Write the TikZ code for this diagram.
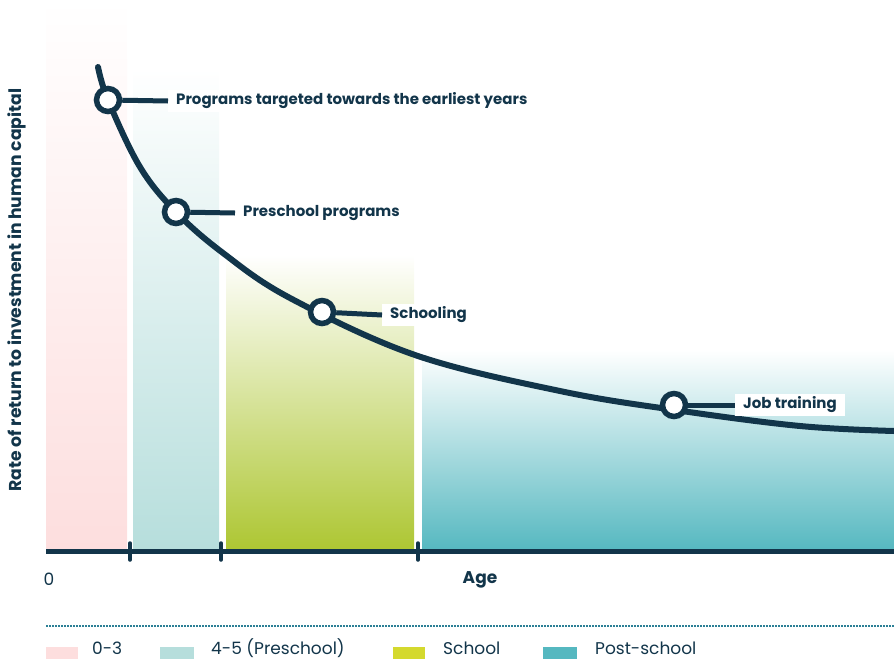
\documentclass[tikz,border=0pt]{standalone}
\usepackage{fontspec}
\setmainfont{Poppins}
\definecolor{navy}{HTML}{12354A}
\definecolor{pinkbar}{HTML}{FDDEDE}
\definecolor{tealbar}{HTML}{B6DEDC}
\definecolor{greenbar}{HTML}{ADC632}
\definecolor{postbar}{HTML}{55B8C0}
\definecolor{schoolkey}{HTML}{D4D92E}
\definecolor{dotline}{HTML}{2B7F95}
\begin{document}
\begin{tikzpicture}[x=1pt,y=-1pt,
    bar/.style={top color=white,bottom color=#1,draw=none},
    ring/.style={circle,draw=navy,fill=white,line width=5.5pt,minimum size=23pt,inner sep=0pt},
    lab/.style={anchor=west,fill=white,inner sep=0pt,inner xsep=8pt,minimum height=22pt,
      text=navy,font=\bfseries\fontsize{15}{18}\selectfont},
    key/.style={anchor=base west,text=navy,font=\fontsize{17}{20}\selectfont,inner sep=0pt}]
  \useasboundingbox (0,0) rectangle (894,659);
  % age bands
  \fill[bar=pinkbar] (46,0) rectangle (127,551);
  \fill[bar=tealbar] (133,68) rectangle (219,551);
  \fill[bar=greenbar] (226,255) rectangle (414,551);
  \fill[bar=postbar] (422,350) rectangle (894,551);
  % axis
  \draw[navy,line width=5pt] (46,551) -- (894,551);
  \foreach \x in {130,221,418}
    \draw[navy,line width=3.5pt,line cap=round] (\x,543) -- (\x,560);
  \node[text=navy,font=\fontsize{17}{20}\selectfont] (zero) at (49,579) {0};
  \node[text=navy,font=\bfseries\fontsize{17}{20}\selectfont] (age) at (480,580) {Age};
  \node[text=navy,rotate=90,font=\bfseries\fontsize{17.2}{20}\selectfont] (ylab) at (17,290)
    {Rate of return to investment in human capital};
  % curve
  \draw[navy,line width=6pt,line cap=round] plot[smooth,tension=0.6]
    coordinates {(98,67) (108,100) (140,167) (176,212) (223,253) (290,298)
      (415,355) (560,391) (675,410) (800,426) (894,431)};
  % points and labels
  \node[ring] (p1) at (108,100) {};
  \node[ring] (p2) at (176,212) {};
  \node[ring] (p3) at (322,312) {};
  \node[ring] (p4) at (674,405) {};
  \node[lab] (l1) at (168,101) {Programs targeted towards the earliest years};
  \node[lab] (l2) at (235,213) {Preschool programs};
  \node[lab] (l3) at (382,315) {Schooling};
  \node[lab] (l4) at (735,405) {Job training};
  \foreach \i in {1,...,4}
    \draw[navy,line width=5pt] (p\i) -- (l\i.west);
  % legend
  \draw[dotline,line width=1.5pt,dash pattern=on 1.5pt off 1.5pt] (46,626) -- (894,626);
  \fill[pinkbar] (46,647) rectangle (78,659);
  \node[key] (k1) at (92,654.5) {0-3};
  \fill[tealbar] (160,647) rectangle (194,659);
  \node[key] (k2) at (211,654.5) {4-5 (Preschool)};
  \fill[schoolkey] (393,647) rectangle (425,659);
  \node[key] (k3) at (443,654.5) {School};
  \fill[postbar] (543,647) rectangle (577,659);
  \node[key] (k4) at (595,654.5) {Post-school};
\end{tikzpicture}
\end{document}
